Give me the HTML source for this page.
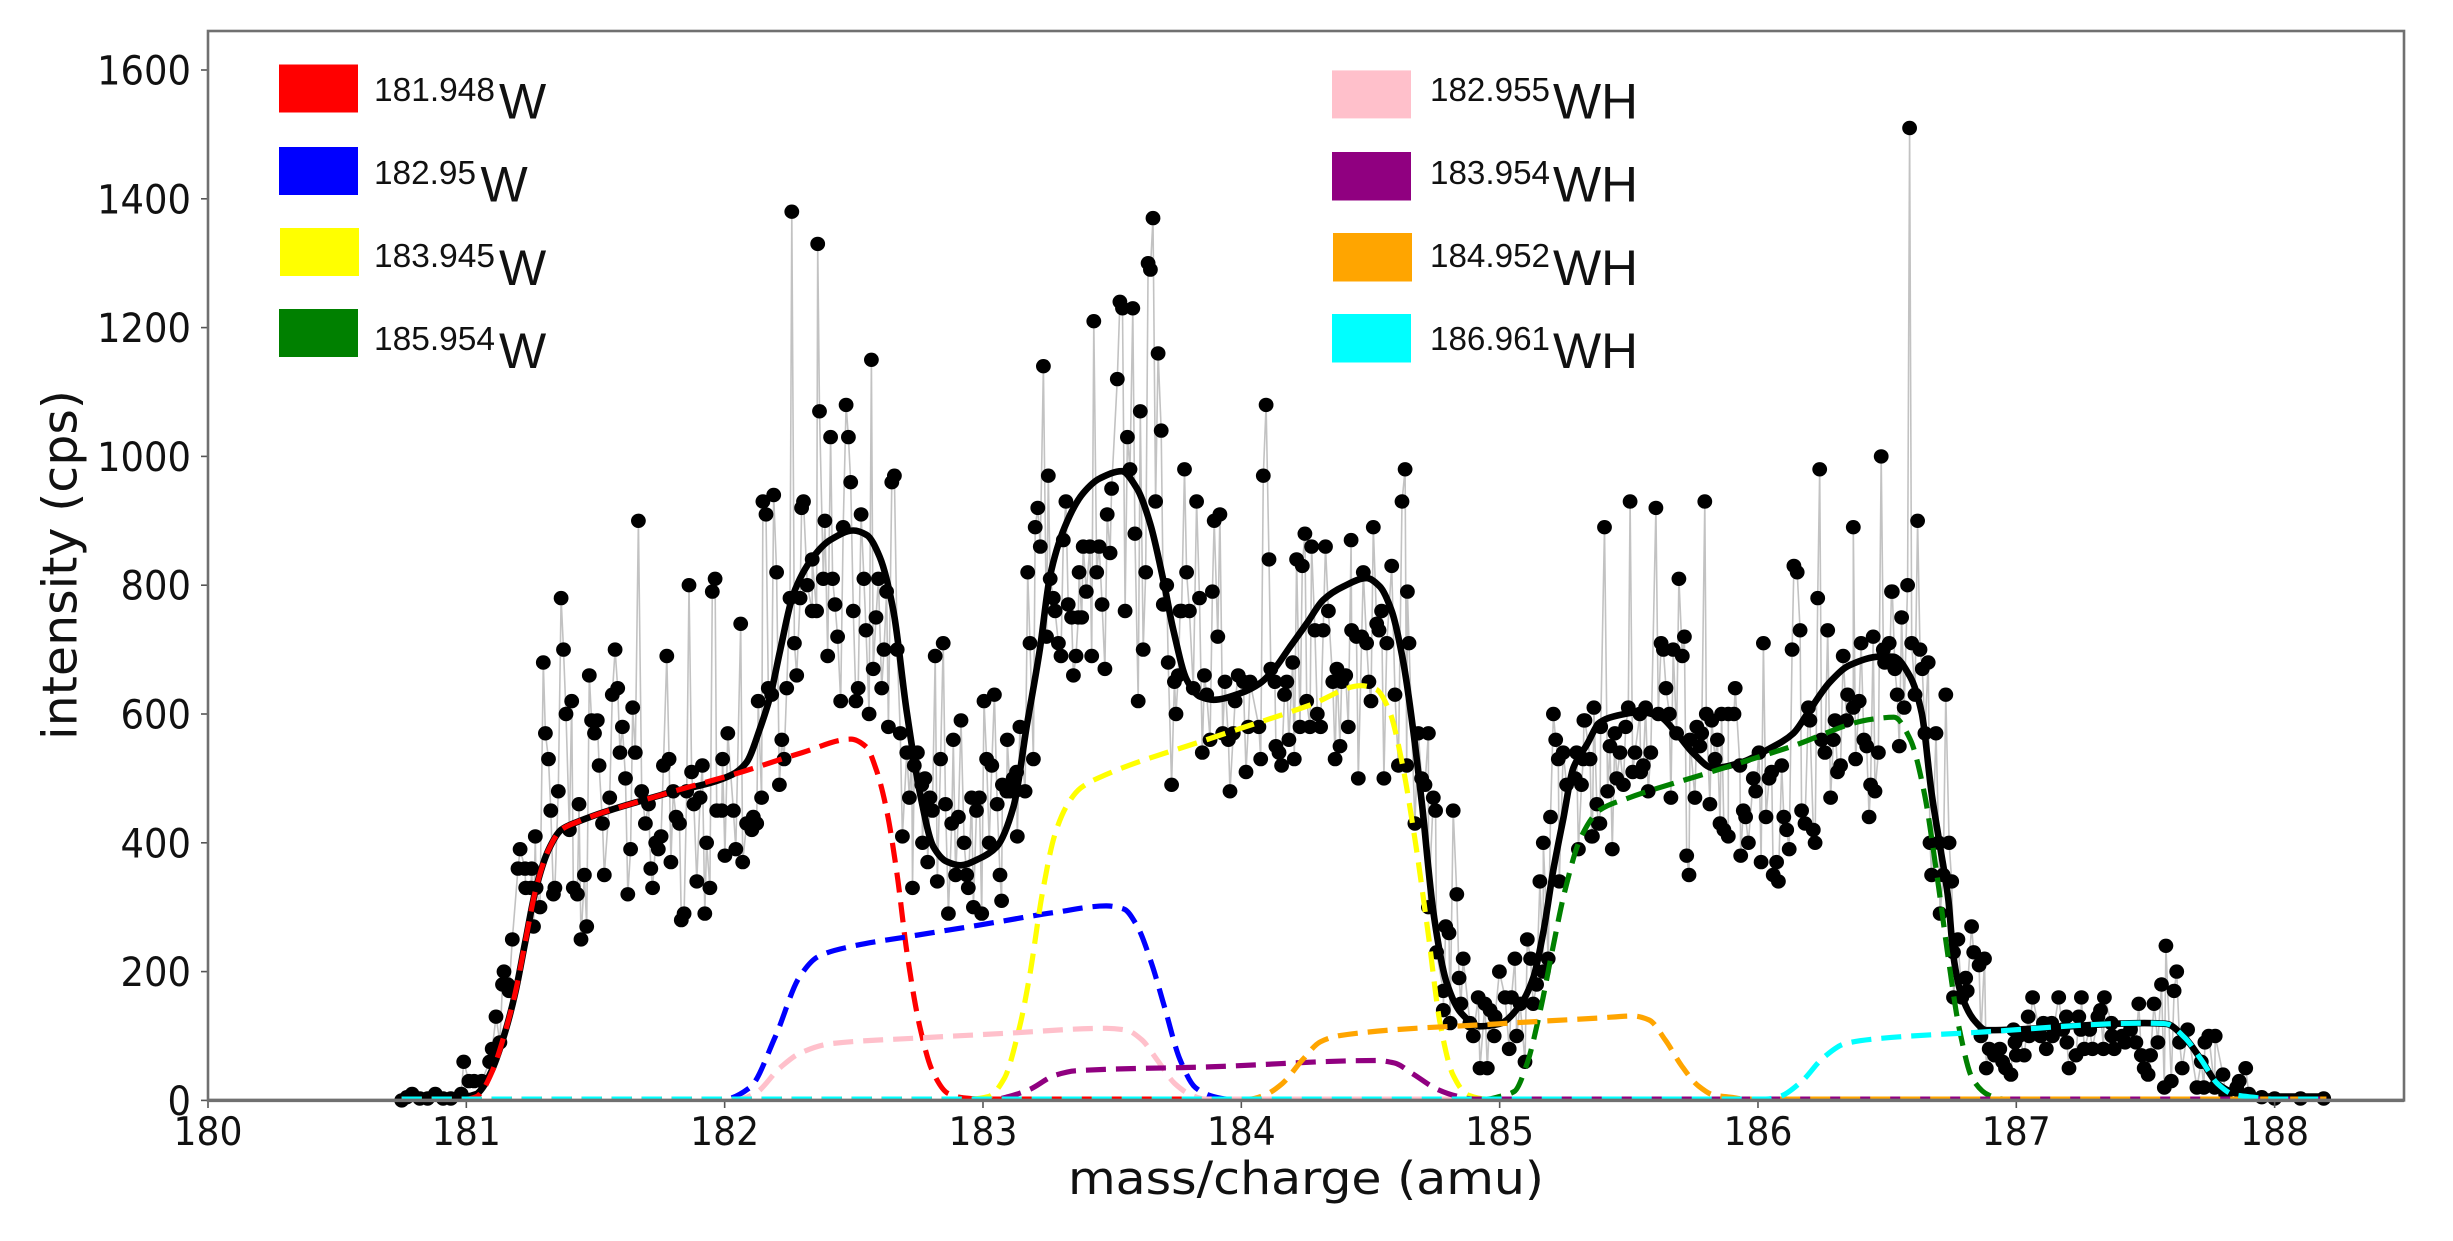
<!DOCTYPE html>
<html lang="en">
<head>
<meta charset="utf-8">
<title>Mass spectrum fit</title>
<style>
html,body{margin:0;padding:0;background:#fff;}
svg{display:block;}
</style>
</head>
<body>
<svg id="chart" xmlns="http://www.w3.org/2000/svg" width="2453" height="1241" viewBox="0 0 2453 1241">
<rect x="0" y="0" width="2453" height="1241" fill="#fff"/>
<g id="marks"></g>
<g id="axes"></g>
<rect x="208" y="31" width="2196" height="1069.4" fill="none" stroke="#707070" stroke-width="2.6"/>
<line x1="208" y1="1100.4" x2="2404" y2="1100.4" stroke="#707070" stroke-width="3.5"/>
<text x="1306" y="1194" text-anchor="middle" font-family="'DejaVu Sans',sans-serif" font-size="45" textLength="476" lengthAdjust="spacingAndGlyphs" fill="#111">mass/charge (amu)</text>
<text transform="translate(76.5,565) rotate(-90)" text-anchor="middle" font-family="'DejaVu Sans',sans-serif" font-size="48" textLength="350" lengthAdjust="spacingAndGlyphs" fill="#111">intensity (cps)</text>

<g font-family="'Liberation Sans',sans-serif" fill="#111">
<g><rect x="279" y="64.5" width="79" height="48" fill="#ff0000"/><text x="374" y="101" font-size="33" textLength="121" lengthAdjust="spacingAndGlyphs">181.948</text><text x="499" y="118.6" font-size="50">W</text></g>
<g><rect x="279" y="147" width="79" height="48" fill="#0000ff"/><text x="374" y="184" font-size="33" textLength="102" lengthAdjust="spacingAndGlyphs">182.95</text><text x="480.5" y="201.6" font-size="50">W</text></g>
<g><rect x="280" y="228" width="79" height="48" fill="#ffff00"/><text x="374" y="267" font-size="33" textLength="121" lengthAdjust="spacingAndGlyphs">183.945</text><text x="499" y="285" font-size="50">W</text></g>
<g><rect x="279" y="309" width="79" height="48" fill="#008000"/><text x="374" y="350" font-size="33" textLength="121" lengthAdjust="spacingAndGlyphs">185.954</text><text x="499" y="368" font-size="50">W</text></g>
<g><rect x="1332" y="70.4" width="79" height="48" fill="#ffc0cb"/><text x="1430" y="101" font-size="33" textLength="120" lengthAdjust="spacingAndGlyphs">182.955</text><text x="1553" y="118.6" font-size="50" textLength="85" lengthAdjust="spacingAndGlyphs">WH</text></g>
<g><rect x="1332" y="152" width="79" height="48.5" fill="#900080"/><text x="1430" y="184" font-size="33" textLength="120" lengthAdjust="spacingAndGlyphs">183.954</text><text x="1553" y="201.6" font-size="50" textLength="85" lengthAdjust="spacingAndGlyphs">WH</text></g>
<g><rect x="1333" y="233" width="79" height="48.5" fill="#ffa500"/><text x="1430" y="267" font-size="33" textLength="120" lengthAdjust="spacingAndGlyphs">184.952</text><text x="1553" y="285" font-size="50" textLength="85" lengthAdjust="spacingAndGlyphs">WH</text></g>
<g><rect x="1332" y="314" width="79" height="48.5" fill="#00ffff"/><text x="1430" y="350" font-size="33" textLength="120" lengthAdjust="spacingAndGlyphs">186.961</text><text x="1553" y="368" font-size="50" textLength="85" lengthAdjust="spacingAndGlyphs">WH</text></g>
</g>
</svg>
<script>
const xTicks=[180,181,182,183,184,185,186,187,188];
const yTicks=[0,200,400,600,800,1000,1200,1400,1600];

const massA=[180.75,180.77,180.79,180.82,180.85,180.88,180.91,180.94,180.98,180.99,
181.01,181.03,181.06,181.09,181.10,181.115,181.13,181.146,181.14,181.16,
181.165,181.178,181.20,181.208,181.227,181.253,181.23,181.25,181.27,181.26,
181.267,181.285,181.298,181.306,181.318,181.327,181.356,181.367,181.376,181.343,
181.337,181.386,181.399,181.408,181.414,181.43,181.436,181.444,181.457,181.466,
181.476,181.485,181.496,181.507,181.514,181.527,181.534,181.555,181.565,181.576];
const intensityA=[0,5,10,3,3,10,3,3,10,60,
30,30,30,60,80,130,90,200,180,180,
170,250,360,390,360,360,330,330,330,270,
410,300,680,570,530,450,480,780,700,330,
320,600,420,620,330,320,460,250,350,270,
660,590,570,590,520,430,350,470,630,700];

const massB=[181.586,181.595,181.604,181.616,181.625,181.636,181.644,181.654,181.666,181.679,
181.693,181.705,181.714,181.721,181.733,181.743,181.754,181.763,181.776,181.785,
181.792,181.801,181.812,181.825,181.832,181.843,181.853,181.862,181.872,181.881,
181.892,181.905,181.914,181.923,181.93,181.943,181.952,181.963,181.969,181.989,
181.992,182.001,182.012,182.034,182.043,182.062,182.07,182.085,182.098,182.105,
182.111,182.124,182.13,182.143,182.148,182.16,182.169,182.182,182.19,182.201,
182.212,182.221,182.23,182.24,182.253,182.26,182.27,182.279,182.292,182.298];
const intensityB=[640,540,580,500,320,390,610,540,900,480,
430,460,360,330,400,390,410,520,690,530,
370,480,440,430,280,290,480,800,510,460,
340,470,520,290,400,330,790,810,450,450,
530,380,570,450,390,740,370,430,430,420,
440,430,620,470,930,910,640,630,940,820,
490,560,530,640,780,1380,710,660,780,920];

const massC=[182.305,182.32,182.339,182.339,182.356,182.36,182.367,182.382,182.388,182.399,
182.41,182.418,182.427,182.437,182.449,182.459,182.47,182.479,182.488,182.498,
182.508,182.517,182.528,182.539,182.547,182.559,182.568,182.575,182.586,182.595,
182.608,182.617,182.627,182.634,182.647,182.657,182.668,182.68,182.688,182.705,
182.715,182.724,182.727,182.734,182.746,182.763,182.766,182.775,182.782,182.786,
182.795,182.804,182.815,182.823,182.836,182.846,182.855,182.866,182.879,182.885,
182.894,182.905,182.915,182.927,182.937,182.943,182.956,182.963,182.975,182.986,
182.995];
const intensityC=[930,800,760,840,760,1330,1070,810,900,690,
1030,810,770,720,620,890,1080,1030,960,760,
620,640,910,810,730,600,1150,670,750,810,
640,700,790,580,960,970,700,570,410,540,
470,540,330,520,540,490,400,500,460,370,
470,450,690,340,530,710,460,290,430,560,
350,440,590,400,350,330,470,300,450,470,
290];

const massD=[183.004,183.014,183.024,183.034,183.044,183.055,183.066,183.072,183.075,183.092,
183.094,183.105,183.117,183.124,183.13,183.133,183.143,183.163,183.173,183.182,
183.195,183.202,183.212,183.222,183.234,183.246,183.253,183.26,183.272,183.279,
183.292,183.302,183.311,183.321,183.33,183.343,183.35,183.36,183.369,183.372,
183.382,183.388,183.4,183.414,183.421,183.429,183.44,183.45,183.461,183.472,
183.481,183.492,183.498,183.52,183.53,183.54,183.55,183.559,183.569,183.58,
183.588,183.601,183.609,183.62,183.63,183.639,183.648,183.658,183.668,183.678,
183.69];
const intensityD=[620,530,400,520,630,460,350,310,490,480,
560,480,500,480,510,410,580,480,820,710,
530,890,920,860,1140,720,970,810,780,760,
710,690,870,930,770,750,660,690,750,820,
750,860,790,860,690,1210,820,860,770,670,
910,850,950,1120,1240,1230,760,1030,980,1230,
880,620,1070,700,820,1300,1290,1370,930,1160,
1040];

const massE=[183.698,183.711,183.717,183.73,183.741,183.747,183.756,183.763,183.769,183.78,
183.788,183.799,183.814,183.827,183.838,183.849,183.857,183.866,183.879,183.888,
183.895,183.909,183.917,183.928,183.937,183.95,183.956,183.969,183.976,183.988,
184.008,184.018,184.027,184.034,184.068,184.075,184.085,184.096,184.107,184.114,
184.13,184.134,184.146,184.156,184.167,184.176,184.184,184.199,184.205,184.214,
184.227,184.236,184.246,184.253,184.266,184.272,184.285,184.294,184.307,184.317,
184.326,184.337,184.354,184.363,184.37,184.382,184.388,184.404,184.414];
const intensityE=[770,800,680,490,650,600,660,760,760,980,
820,760,640,930,780,540,660,630,560,790,
900,720,910,570,650,560,480,570,620,660,
650,510,580,650,580,530,970,1080,840,670,
650,550,540,520,630,650,560,680,530,840,
580,830,880,620,580,860,730,600,580,730,
860,760,650,530,670,550,650,660,580];

const massF=[184.425,184.427,184.446,184.453,184.466,184.472,184.485,184.494,184.502,184.511,
184.524,184.533,184.543,184.552,184.563,184.582,184.595,184.608,184.622,184.634,
184.64,184.643,184.649,184.672,184.685,184.698,184.711,184.724,184.724,184.743,
184.752,184.756,184.782,184.782,184.791,184.804,184.808,184.82,184.834,184.843,
184.85,184.859,184.885,184.898,184.917,184.924,184.943,184.952,184.963,184.979,
184.982];
const intensityF=[870,730,720,500,720,820,710,650,620,890,
740,730,760,500,710,830,630,520,930,980,
520,790,710,430,570,500,490,570,300,470,
450,230,170,140,270,260,120,450,320,190,
150,220,120,100,160,50,150,50,140,100,
130];

const massG=[184.999,185.021,185.037,185.046,185.059,185.066,185.079,185.098,185.107,185.12,
185.13,185.143,185.156,185.169,185.169,185.188,185.197,185.208,185.217,185.227,
185.231,185.246,185.259,185.292,185.298,185.305,185.317,185.324,185.326,185.33,
185.35,185.356,185.359,185.365,185.376,185.382,185.388,185.391,185.406,185.418,
185.427,185.436,185.446,185.453,185.466,185.479,185.488,185.498,185.505,185.515,
185.524,185.543,185.546,185.556,185.565,185.575,185.585,185.605,185.614,185.625,
185.634,185.644,185.657,185.663,185.672,185.685,185.694,185.707];
const intensityG=[200,160,80,160,220,100,150,60,250,220,
150,180,340,200,400,220,440,600,560,530,
340,540,490,500,540,390,490,530,590,590,
530,410,410,610,460,430,430,580,890,480,
550,390,570,500,540,490,580,610,930,510,
540,600,510,520,610,480,540,920,600,710,
700,640,600,470,700,570,810,690];

const massH=[185.715,185.724,185.733,185.737,185.756,185.763,185.775,185.782,185.794,185.8,
185.814,185.821,185.834,185.843,185.853,185.859,185.868,185.885,185.885,185.907,
185.912,185.93,185.933,185.943,185.952,185.963,185.982,185.991,186.004,186.012,
186.021,186.031,186.043,186.053,186.059,186.072,186.079,186.092,186.1,186.111,
186.121,186.132,186.139,186.152,186.163,186.169,186.182,186.195,186.201,186.214,
186.221,186.231,186.239,186.246,186.259,186.27,186.281,186.292,186.298,186.308,
186.32,186.33,186.343,186.347,186.369,186.369,186.378,186.392,186.399];
const intensityH=[720,380,350,560,470,580,550,570,930,600,
460,590,530,560,430,600,420,410,600,600,
640,520,380,450,440,400,500,480,540,370,
710,440,500,510,350,370,340,520,440,420,
390,700,830,820,730,450,430,610,590,420,
400,780,980,560,540,730,470,560,590,510,
520,690,590,630,610,890,530,620,710];

const massI=[186.41,186.421,186.43,186.436,186.446,186.453,186.466,186.477,186.485,186.49,
186.508,186.51,186.517,186.52,186.53,186.539,186.547,186.556,186.566,186.579,
186.587,186.595,186.608,186.618,186.627,186.636,186.646,186.659,186.666,186.672,
186.689,186.7,186.705,186.717,186.727,186.74,186.75,186.757,186.757,186.774,
186.789,186.804,186.81,186.827,186.835,186.856,186.863,186.877];
const intensityI=[560,550,440,490,720,480,540,1000,700,680,
710,680,790,790,670,630,550,750,610,800,
1510,710,630,900,700,670,570,680,400,350,
570,400,290,350,630,400,340,230,160,250,
160,190,170,270,230,210,100,220];

const massJ=[186.884,186.895,186.915,186.936,186.947,186.958,186.979,186.989,186.995,187.0,
187.01,187.031,187.046,187.05,187.063,187.094,187.105,187.116,187.137,187.14,
187.164,187.18,187.194,187.196,187.204,187.231,187.242,187.25,187.252,187.263,
187.284,187.295,187.316,187.326,187.337,187.341,187.368,187.37,187.379,187.41,
187.421,187.442,187.463,187.474,187.484,187.495,187.51,187.52,187.533,187.548,
187.562,187.573,187.579,187.6,187.611,187.621,187.632,187.642,187.663,187.699,
187.716,187.726,187.73,187.745,187.768,187.77,187.8,187.81,187.853,187.863,
187.888,187.9,187.95,188.0,188.1,188.19];
const intensityJ=[50,80,70,80,60,50,40,110,90,70,
100,70,130,100,160,100,120,80,120,100,
160,110,130,90,50,70,130,110,160,80,
110,80,130,140,80,160,120,100,80,100,
90,110,90,150,70,50,40,70,150,90,
180,20,240,30,170,200,90,50,110,20,
60,20,90,100,20,100,40,10,20,30,
50,10,5,3,3,3];

const fitMass=[180.75,180.95,181.0,181.04,181.06,181.1,181.15,181.19,181.229,181.269,181.318,181.367,181.427,181.76,182.03,182.085,182.137,182.176,182.214,182.265,182.343,182.408,182.498,182.55,182.6,182.653,182.704,182.756,182.808,182.859,182.911,182.988,183.053,183.118,183.169,183.22,183.259,183.317,183.388,183.453,183.537,183.595,183.647,183.698,183.737,183.789,183.84,183.892,183.995,184.073,184.124,184.188,184.254,184.317,184.395,184.485,184.536,184.582,184.626,184.665,184.7,184.744,184.794,184.85,184.924,185.0,185.079,185.13,185.169,185.207,185.247,185.285,185.337,185.388,185.44,185.543,185.62,185.685,185.75,185.827,185.93,186.034,186.137,186.2,186.279,186.356,186.472,186.524,186.589,186.634,186.672,186.705,186.737,186.757,186.789,186.842,186.884,187.495,187.579,187.653,187.716,187.779,187.842,187.917,188.19];
const fitIntensity=[5,5,6,10,18,48,106,168,248,328,389,420,432,475,506,525,578,627,697,785,844,870,885,878,844,761,606,477,394,371,365,376,394,456,580,700,813,891,943,966,977,951,896,808,730,653,627,622,632,648,668,704,741,777,798,811,798,760,683,576,457,291,184,136,115,119,148,190,261,356,439,516,552,587,596,603,596,570,539,516,524,544,570,606,650,676,689,689,658,601,477,394,311,223,162,122,109,120,119,97,63,26,12,6,6];

const redMass=[180.75,181.0,181.04,181.06,181.1,181.15,181.19,181.229,181.269,181.318,181.367,181.427,181.76,182.058,182.3,182.489,182.548,182.588,182.627,182.667,182.706,182.756,182.805,182.864,182.924,183.0,188.2];
const redIntensity=[2,2,6,14,45,106,168,248,328,389,420,432,475,509,540,561,549,512,451,352,229,113,45,11,4,2,2];
const blueMass=[180.75,182.0,182.098,182.197,182.29,182.361,182.489,182.706,182.983,183.279,183.477,183.546,183.595,183.654,183.704,183.763,183.822,183.891,183.95,188.2];
const blueIntensity=[2,2,20,100,192,223,239,254,272,292,302,297,272,211,143,63,20,6,2,2];
const yellowMass=[180.75,182.95,183.022,183.081,183.141,183.18,183.23,183.279,183.328,183.378,183.477,183.872,184.267,184.464,184.523,184.573,184.622,184.671,184.721,184.77,184.82,184.879,184.95,188.2];
const yellowIntensity=[2,2,6,33,113,192,322,414,460,485,506,561,614,644,638,605,525,408,266,119,39,8,2,2];
const greenMass=[180.75,184.95,185.0,185.057,185.106,185.156,185.205,185.254,185.314,185.388,185.494,185.81,186.126,186.442,186.526,186.589,186.642,186.694,186.736,186.779,186.831,186.894,186.95,188.2];
const greenIntensity=[2,2,6,14,57,137,235,328,408,451,469,509,549,592,595,561,481,346,223,112,33,8,2,2];
const pinkMass=[180.75,182.05,182.118,182.215,182.29,182.41,182.756,183.082,183.477,183.556,183.615,183.674,183.743,183.803,183.86,188.2];
const pinkIntensity=[2,2,11,51,73,88,97,104,112,109,94,63,26,9,2,2];
const purpleMass=[180.75,183.05,183.1,183.18,183.279,183.358,183.872,184.523,184.593,184.661,184.76,184.84,184.9,188.2];
const purpleIntensity=[2,2,6,17,39,46,52,62,58,42,17,6,2,2];
const orangeMass=[180.75,184.03,184.089,184.158,184.237,184.306,184.385,184.997,185.3885,185.515,185.578,185.641,185.704,185.768,185.831,185.894,185.95,188.2];
const orangeIntensity=[2,2,8,26,63,91,101,119,128,131,125,94,54,23,8,5,2,2];
const cyanMass=[180.75,186.03,186.084,186.168,186.252,186.336,186.442,186.863,187.495,187.579,187.653,187.716,187.779,187.842,187.917,188.0,188.2];
const cyanIntensity=[2,2,6,29,66,88,95,106,120,119,97,63,26,9,5,2,2];

const seriesNames=['red','blue','yellow','green','pink','purple','orange','cyan'];
const seriesColors=['#ff0000','#0000ff','#ffff00','#008000','#ffc0cb','#900080','#ffa500','#00ffff'];
const seriesMasses=[redMass,blueMass,yellowMass,greenMass,pinkMass,purpleMass,orangeMass,cyanMass];
const seriesIntensities=[redIntensity,blueIntensity,yellowIntensity,greenIntensity,pinkIntensity,purpleIntensity,orangeIntensity,cyanIntensity];

const NS='http://www.w3.org/2000/svg';
const xScale=m=>208+(m-180)*258.33;
const yScale=v=>1100.4-v*0.644;

function monotonePath(xs,ys){
  const n=xs.length;
  const d=[],t=[];
  for(let i=0;i<n-1;i++){d.push((ys[i+1]-ys[i])/((xs[i+1]-xs[i])||1e-6));}
  t[0]=d[0];t[n-1]=d[n-2];
  for(let i=1;i<n-1;i++){
    if(d[i-1]*d[i]<=0){t[i]=0;}
    else{
      const h0=xs[i]-xs[i-1],h1=xs[i+1]-xs[i];
      t[i]=3*(h0+h1)/((2*h1+h0)/d[i-1]+(h1+2*h0)/d[i]);
    }
  }
  let p='M'+xs[0].toFixed(1)+' '+ys[0].toFixed(1);
  for(let i=0;i<n-1;i++){
    const h=(xs[i+1]-xs[i])/3;
    p+='C'+(xs[i]+h).toFixed(1)+' '+(ys[i]+h*t[i]).toFixed(1)+' '+(xs[i+1]-h).toFixed(1)+' '+(ys[i+1]-h*t[i+1]).toFixed(1)+' '+xs[i+1].toFixed(1)+' '+ys[i+1].toFixed(1);
  }
  return p;
}

const marks=document.getElementById('marks');
const axes=document.getElementById('axes');
const allMass=[].concat(massA,massB,massC,massD,massE,massF,massG,massH,massI,massJ);
const allIntensity=[].concat(intensityA,intensityB,intensityC,intensityD,intensityE,intensityF,intensityG,intensityH,intensityI,intensityJ);
const order=allMass.map((m,i)=>i).sort((a,b)=>allMass[a]-allMass[b]);

const trace=document.createElementNS(NS,'polyline');


trace.setAttribute('points',order.map(i=>xScale(allMass[i]).toFixed(1)+','+yScale(allIntensity[i]).toFixed(1)).join(' '));
trace.setAttribute('fill','none');
trace.setAttribute('stroke','#a8a8a8');
trace.setAttribute('stroke-width','1.6');
trace.setAttribute('stroke-opacity','0.7');
marks.appendChild(trace);

order.forEach(i=>{
  const dot=document.createElementNS(NS,'ellipse');
  
  
  dot.setAttribute('cx',xScale(allMass[i]).toFixed(1));
  dot.setAttribute('cy',yScale(allIntensity[i]).toFixed(1));
  dot.setAttribute('rx','7.4');
  dot.setAttribute('ry','7.2');
  dot.setAttribute('fill','#000');
  marks.appendChild(dot);
});

const fit=document.createElementNS(NS,'path');


fit.setAttribute('d',monotonePath(fitMass.map(xScale),fitIntensity.map(yScale)));
fit.setAttribute('fill','none');
fit.setAttribute('stroke','#000');
fit.setAttribute('stroke-width','6.6');
marks.appendChild(fit);

seriesNames.forEach((name,k)=>{
  const line=document.createElementNS(NS,'path');
  
  
  line.setAttribute('d',monotonePath(seriesMasses[k].map(xScale),seriesIntensities[k].map(yScale)));
  line.setAttribute('fill','none');
  line.setAttribute('stroke',seriesColors[k]);
  line.setAttribute('stroke-width','5.2');
  line.setAttribute('stroke-dasharray','20 10');
  marks.appendChild(line);
});

xTicks.forEach(v=>{
  const tick=document.createElementNS(NS,'line');
  
  
  tick.setAttribute('x1',xScale(v));
  tick.setAttribute('x2',xScale(v));
  tick.setAttribute('y1','1100');
  tick.setAttribute('y2','1108');
  tick.setAttribute('stroke','#555');
  tick.setAttribute('stroke-width','1.6');
  axes.appendChild(tick);
  const label=document.createElementNS(NS,'text');
  
  
  label.setAttribute('x',xScale(v));
  label.setAttribute('y','1145');
  label.setAttribute('text-anchor','middle');
  label.setAttribute('font-family',"'DejaVu Sans',sans-serif");
  label.setAttribute('font-size','39');
  label.setAttribute('textLength','69');
  label.setAttribute('lengthAdjust','spacingAndGlyphs');
  label.setAttribute('fill','#111');
  label.textContent=v;
  axes.appendChild(label);
});

yTicks.forEach(v=>{
  const tick=document.createElementNS(NS,'line');
  
  
  tick.setAttribute('x1','201');
  tick.setAttribute('x2','208');
  tick.setAttribute('y1',yScale(v));
  tick.setAttribute('y2',yScale(v));
  tick.setAttribute('stroke','#555');
  tick.setAttribute('stroke-width','1.6');
  axes.appendChild(tick);
  const label=document.createElementNS(NS,'text');
  
  
  label.setAttribute('x','191');
  label.setAttribute('y',yScale(v)+14.5);
  label.setAttribute('text-anchor','end');
  label.setAttribute('font-family',"'DejaVu Sans',sans-serif");
  label.setAttribute('font-size','40');
  const digits=String(v).length;
  label.setAttribute('textLength',String(digits*23.5));
  label.setAttribute('lengthAdjust','spacingAndGlyphs');
  label.setAttribute('fill','#111');
  label.textContent=v;
  axes.appendChild(label);
});
</script>
</body>
</html>
